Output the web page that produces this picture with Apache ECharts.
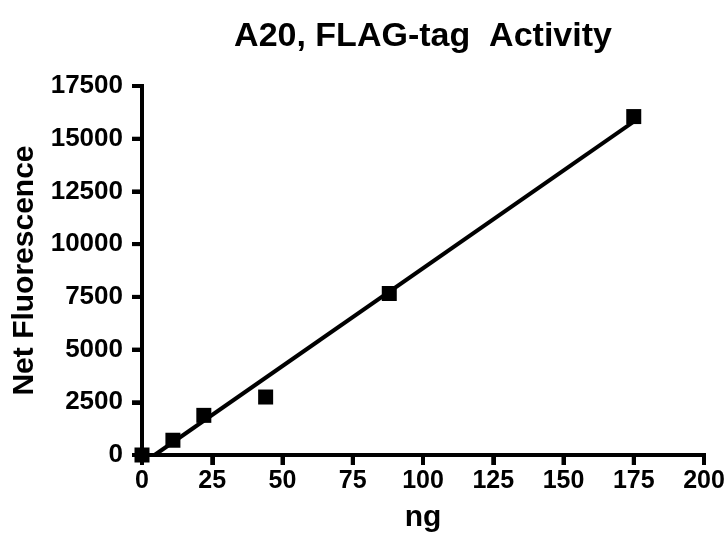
<!DOCTYPE html>
<html><head><meta charset="utf-8">
<script src="https://cdn.jsdelivr.net/npm/echarts@6/dist/echarts.min.js"></script>
<style>html,body{margin:0;padding:0;background:#fff}#c{width:726px;height:542px}</style>
</head><body><div id="c"></div>
<script>
var ngValues = [0, 11, 22, 44, 88, 175];
var fluorescence = [0, 700, 1880, 2750, 7660, 16050];
var xTicks = [0, 25, 50, 75, 100, 125, 150, 175, 200];
var yTicks = [0, 2500, 5000, 7500, 10000, 12500, 15000, 17500];

// least-squares fit line from the data
var n = ngValues.length, mx = 0, my = 0;
for (var i = 0; i < n; i++) { mx += ngValues[i]; my += fluorescence[i]; }
mx /= n; my /= n;
var sxx = 0, sxy = 0;
for (var i = 0; i < n; i++) { sxx += (ngValues[i]-mx)*(ngValues[i]-mx); sxy += (ngValues[i]-mx)*(fluorescence[i]-my); }
var slope = sxy / sxx, icpt = my - slope * mx;
var x0 = -icpt / slope, x1 = ngValues[n-1];
var fitLine = [[x0, 0], [x1, slope * x1 + icpt]];

var xMin = xTicks[0], xMax = xTicks[xTicks.length-1], xStep = xTicks[1]-xTicks[0];
var yMin = yTicks[0], yMax = yTicks[yTicks.length-1], yStep = yTicks[1]-yTicks[0];

var font = 'Liberation Sans, Arial, sans-serif';
var lineSty = { color: '#000', width: 4 };
var chart = echarts.init(document.getElementById('c'));
chart.setOption({
  animation: false,
  title: { text: 'A20, FLAG-tag  Activity', left: 418, top: 15, textAlign: 'center',
    textStyle: { fontFamily: font, fontSize: 34, fontWeight: 'bold', color: '#000' } },
  grid: { left: 142, right: 22, top: 86, bottom: 87, containLabel: false, outerBoundsMode: 'none' },
  xAxis: { type: 'value', min: xMin, max: xMax, interval: xStep,
    name: 'ng', nameLocation: 'middle', nameGap: 48,
    nameTextStyle: { fontFamily: font, fontSize: 30, fontWeight: 'bold', color: '#000' },
    axisLine: { show: true, onZero: false, lineStyle: lineSty },
    axisTick: { show: true, length: 10, lineStyle: lineSty },
    axisLabel: { fontFamily: font, fontSize: 25, fontWeight: 'bold', color: '#000', margin: 14,
      formatter: function(v){ return String(v); } },
    splitLine: { show: false } },
  yAxis: { type: 'value', min: yMin, max: yMax, interval: yStep,
    name: 'Net Fluorescence', nameLocation: 'middle', nameGap: 100, nameRotate: 90,
    nameTextStyle: { fontFamily: font, fontSize: 30, fontWeight: 'bold', color: '#000' },
    axisLine: { show: true, onZero: false, lineStyle: lineSty },
    axisTick: { show: true, length: 10, lineStyle: lineSty },
    axisLabel: { fontFamily: font, fontSize: 26, fontWeight: 'bold', color: '#000', margin: 19,
      formatter: function(v){ return String(v); } },
    splitLine: { show: false } },
  series: [
    { type: 'line', data: fitLine, symbol: 'none', lineStyle: { color: '#000', width: 4 }, z: 2 },
    { type: 'scatter', data: ngValues.map(function(v, i){ return [v, fluorescence[i]]; }),
      symbol: 'rect', symbolSize: 15, itemStyle: { color: '#000', opacity: 1 }, z: 3, clip: false }
  ]
});

// axis lines and ticks placed through the chart's own scales
function px(v, w) { return chart.convertToPixel({ xAxisIndex: 0, yAxisIndex: 0 }, [v, w]); }
var els = [];
var o = px(xMin, yMin), xe = px(xMax, yMin), ye = px(xMin, yMax);
var st = { stroke: '#000', lineWidth: 4, lineCap: 'butt' };
els.push({ type: 'line', z: 100, shape: { x1: o[0] - 2, y1: o[1], x2: xe[0] + 2, y2: xe[1] }, style: st });
els.push({ type: 'line', z: 100, shape: { x1: o[0], y1: o[1] + 2, x2: ye[0], y2: ye[1] - 2 }, style: st });
xTicks.forEach(function(t) {
  var p = px(t, yMin);
  els.push({ type: 'line', z: 100, shape: { x1: p[0], y1: p[1], x2: p[0], y2: p[1] + 10 }, style: st });
});
yTicks.forEach(function(t) {
  var p = px(xMin, t);
  els.push({ type: 'line', z: 100, shape: { x1: p[0], y1: p[1], x2: p[0] - 10, y2: p[1] }, style: st });
});
chart.setOption({ graphic: { elements: els } });
</script></body></html>
